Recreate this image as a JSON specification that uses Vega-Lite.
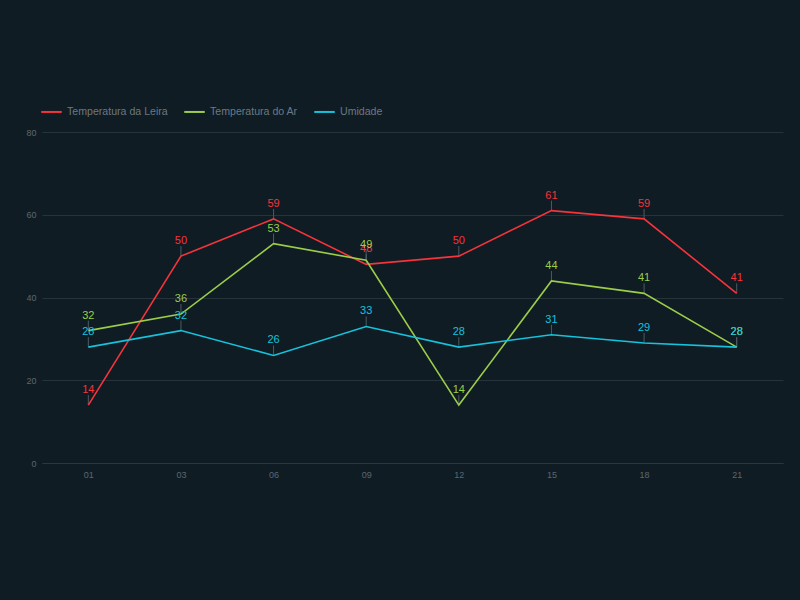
{
  "$schema": "https://vega.github.io/schema/vega-lite/v6.json",
  "width": 741,
  "height": 331,
  "autosize": {"type": "none"},
  "padding": {"left": 42, "top": 132, "right": 17, "bottom": 137},
  "background": "#0f1c24",
  "config": {
    "view": {"stroke": null},
    "font": "Liberation Sans",
    "axis": {"labelColor": "#5b676f", "labelFont": "Liberation Sans", "labelFontSize": 9, "ticks": false, "gridColor": "#26333b", "domainColor": "#2a373f", "title": null}
  },
  "data": {
    "values": [
      {"hora": "01", "serie": "Temperatura da Leira", "valor": 14},
      {"hora": "03", "serie": "Temperatura da Leira", "valor": 50},
      {"hora": "06", "serie": "Temperatura da Leira", "valor": 59},
      {"hora": "09", "serie": "Temperatura da Leira", "valor": 48},
      {"hora": "12", "serie": "Temperatura da Leira", "valor": 50},
      {"hora": "15", "serie": "Temperatura da Leira", "valor": 61},
      {"hora": "18", "serie": "Temperatura da Leira", "valor": 59},
      {"hora": "21", "serie": "Temperatura da Leira", "valor": 41},
      {"hora": "01", "serie": "Temperatura do Ar", "valor": 32},
      {"hora": "03", "serie": "Temperatura do Ar", "valor": 36},
      {"hora": "06", "serie": "Temperatura do Ar", "valor": 53},
      {"hora": "09", "serie": "Temperatura do Ar", "valor": 49},
      {"hora": "12", "serie": "Temperatura do Ar", "valor": 14},
      {"hora": "15", "serie": "Temperatura do Ar", "valor": 44},
      {"hora": "18", "serie": "Temperatura do Ar", "valor": 41},
      {"hora": "21", "serie": "Temperatura do Ar", "valor": 28},
      {"hora": "01", "serie": "Umidade", "valor": 28},
      {"hora": "03", "serie": "Umidade", "valor": 32},
      {"hora": "06", "serie": "Umidade", "valor": 26},
      {"hora": "09", "serie": "Umidade", "valor": 33},
      {"hora": "12", "serie": "Umidade", "valor": 28},
      {"hora": "15", "serie": "Umidade", "valor": 31},
      {"hora": "18", "serie": "Umidade", "valor": 29},
      {"hora": "21", "serie": "Umidade", "valor": 28}
    ]
  },
  "encoding": {
    "x": {"field": "hora", "type": "ordinal", "scale": {"type": "point", "padding": 0.5}, "axis": {"labelAngle": 0, "grid": false, "labelPadding": 7}},
    "y": {"field": "valor", "type": "quantitative", "scale": {"domain": [0, 80]}, "axis": {"values": [0, 20, 40, 60, 80], "domain": false, "labelPadding": 6}}
  },
  "layer": [
    {
      "mark": {"type": "rule", "color": "#4f5b63", "strokeWidth": 1, "y2Offset": -10},
      "encoding": {"y2": {"field": "valor"}, "detail": {"field": "serie"}}
    },
    {
      "mark": {"type": "line", "strokeWidth": 1.6},
      "encoding": {
        "color": {
          "field": "serie",
          "type": "nominal",
          "scale": {"domain": ["Temperatura da Leira", "Temperatura do Ar", "Umidade"], "range": ["#f7333b", "#9ccd48", "#16c2dc"]},
          "legend": {"orient": "none", "legendX": -2, "legendY": -32, "direction": "horizontal", "title": null, "symbolType": "stroke", "symbolSize": 420, "symbolStrokeWidth": 2, "labelColor": "#6d7880", "labelFontSize": 10.6, "labelFont": "Liberation Sans", "columnPadding": 12, "symbolOffset": 0}
        }
      }
    },
    {
      "mark": {"type": "text", "dy": -15, "fontSize": 11, "font": "Liberation Sans"},
      "encoding": {
        "text": {"field": "valor", "type": "quantitative"},
        "color": {"field": "serie", "type": "nominal", "legend": null}
      }
    }
  ]
}
